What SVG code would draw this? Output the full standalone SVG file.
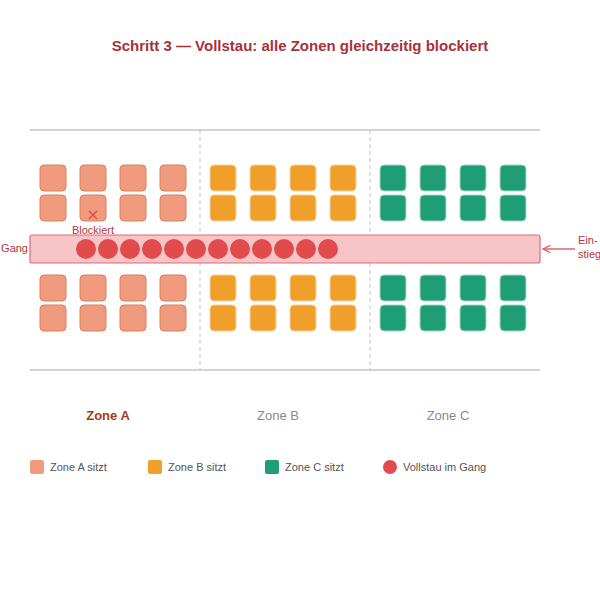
<svg xmlns="http://www.w3.org/2000/svg" width="600" height="600" viewBox="0 0 600 600">
<defs>
<style>
text{font-family:"Liberation Sans",Arial,sans-serif}
.sa{fill:#f09b7d;stroke:#d9805f;stroke-width:1}
.sb{fill:#ef9f2a;stroke:#f5d3a0;stroke-width:1}
.sc{fill:#1f9e76;stroke:#a8d8c6;stroke-width:1}
.p{fill:#e14b4e}
.zl{font-size:13px;text-anchor:middle;fill:#8a8a8a}
.lg{font-size:11px;fill:#555}
.rl{fill:#b8343a;font-size:11px}
</style>
<marker id="ah" viewBox="0 0 10 10" refX="9" refY="5" markerWidth="9" markerHeight="9" orient="auto" markerUnits="userSpaceOnUse">
<path d="M1 1L9 5L1 9" fill="none" stroke="#e0626a" stroke-width="1.5"/>
</marker>
</defs>
<rect width="600" height="600" fill="#fff"/>
<text x="300" y="51" text-anchor="middle" font-size="15" font-weight="bold" fill="#a8313a">Schritt 3 — Vollstau: alle Zonen gleichzeitig blockiert</text>
<g id="cabin">
<line x1="30" y1="130" x2="540" y2="130" stroke="#c8c5c0" stroke-width="1.5"/>
<line x1="30" y1="370" x2="540" y2="370" stroke="#c8c5c0" stroke-width="1.5"/>
<line x1="200" y1="130" x2="200" y2="370" stroke="#cfcfcf" stroke-width="1.2" stroke-dasharray="4 3"/>
<line x1="370" y1="130" x2="370" y2="370" stroke="#cfcfcf" stroke-width="1.2" stroke-dasharray="4 3"/>
</g>
<g id="zoneA-seats">
<rect class="sa" x="40" y="165" width="26" height="26" rx="4"/><rect class="sa" x="80" y="165" width="26" height="26" rx="4"/><rect class="sa" x="120" y="165" width="26" height="26" rx="4"/><rect class="sa" x="160" y="165" width="26" height="26" rx="4"/>
<rect class="sa" x="40" y="195" width="26" height="26" rx="4"/><rect class="sa" x="80" y="195" width="26" height="26" rx="4"/><rect class="sa" x="120" y="195" width="26" height="26" rx="4"/><rect class="sa" x="160" y="195" width="26" height="26" rx="4"/>
<rect class="sa" x="40" y="275" width="26" height="26" rx="4"/><rect class="sa" x="80" y="275" width="26" height="26" rx="4"/><rect class="sa" x="120" y="275" width="26" height="26" rx="4"/><rect class="sa" x="160" y="275" width="26" height="26" rx="4"/>
<rect class="sa" x="40" y="305" width="26" height="26" rx="4"/><rect class="sa" x="80" y="305" width="26" height="26" rx="4"/><rect class="sa" x="120" y="305" width="26" height="26" rx="4"/><rect class="sa" x="160" y="305" width="26" height="26" rx="4"/>
</g>
<g id="zoneB-seats">
<rect class="sb" x="210" y="165" width="26" height="26" rx="4"/><rect class="sb" x="250" y="165" width="26" height="26" rx="4"/><rect class="sb" x="290" y="165" width="26" height="26" rx="4"/><rect class="sb" x="330" y="165" width="26" height="26" rx="4"/>
<rect class="sb" x="210" y="195" width="26" height="26" rx="4"/><rect class="sb" x="250" y="195" width="26" height="26" rx="4"/><rect class="sb" x="290" y="195" width="26" height="26" rx="4"/><rect class="sb" x="330" y="195" width="26" height="26" rx="4"/>
<rect class="sb" x="210" y="275" width="26" height="26" rx="4"/><rect class="sb" x="250" y="275" width="26" height="26" rx="4"/><rect class="sb" x="290" y="275" width="26" height="26" rx="4"/><rect class="sb" x="330" y="275" width="26" height="26" rx="4"/>
<rect class="sb" x="210" y="305" width="26" height="26" rx="4"/><rect class="sb" x="250" y="305" width="26" height="26" rx="4"/><rect class="sb" x="290" y="305" width="26" height="26" rx="4"/><rect class="sb" x="330" y="305" width="26" height="26" rx="4"/>
</g>
<g id="zoneC-seats">
<rect class="sc" x="380" y="165" width="26" height="26" rx="4"/><rect class="sc" x="420" y="165" width="26" height="26" rx="4"/><rect class="sc" x="460" y="165" width="26" height="26" rx="4"/><rect class="sc" x="500" y="165" width="26" height="26" rx="4"/>
<rect class="sc" x="380" y="195" width="26" height="26" rx="4"/><rect class="sc" x="420" y="195" width="26" height="26" rx="4"/><rect class="sc" x="460" y="195" width="26" height="26" rx="4"/><rect class="sc" x="500" y="195" width="26" height="26" rx="4"/>
<rect class="sc" x="380" y="275" width="26" height="26" rx="4"/><rect class="sc" x="420" y="275" width="26" height="26" rx="4"/><rect class="sc" x="460" y="275" width="26" height="26" rx="4"/><rect class="sc" x="500" y="275" width="26" height="26" rx="4"/>
<rect class="sc" x="380" y="305" width="26" height="26" rx="4"/><rect class="sc" x="420" y="305" width="26" height="26" rx="4"/><rect class="sc" x="460" y="305" width="26" height="26" rx="4"/><rect class="sc" x="500" y="305" width="26" height="26" rx="4"/>
</g>
<g id="aisle">
<rect x="30" y="235" width="510" height="28" rx="2" fill="#f7c5c7" stroke="#e36a70" stroke-width="1.2"/>
<text class="rl" x="28" y="252" text-anchor="end">Gang</text>
</g>
<g id="passengers">
<circle class="p" cx="86" cy="249" r="10"/><circle class="p" cx="108" cy="249" r="10"/><circle class="p" cx="130" cy="249" r="10"/><circle class="p" cx="152" cy="249" r="10"/><circle class="p" cx="174" cy="249" r="10"/><circle class="p" cx="196" cy="249" r="10"/><circle class="p" cx="218" cy="249" r="10"/><circle class="p" cx="240" cy="249" r="10"/><circle class="p" cx="262" cy="249" r="10"/><circle class="p" cx="284" cy="249" r="10"/><circle class="p" cx="306" cy="249" r="10"/><circle class="p" cx="328" cy="249" r="10"/>
</g>
<g id="blocked">
<path d="M89 211L97 219M97 211L89 219" stroke="#e14b4e" stroke-width="1.5"/>
<text class="rl" x="93" y="234" text-anchor="middle">Blockiert</text>
</g>
<g id="connectors">
<line x1="575" y1="249" x2="543" y2="249" stroke="#e0626a" stroke-width="1.5" marker-end="url(#ah)"/>
</g>
<g id="entry">
<text class="rl" x="578" y="244">Ein-</text>
<text class="rl" x="578" y="258">stieg</text>
</g>
<g id="zone-labels">
<text class="zl" x="108" y="420" font-weight="bold" style="fill:#a33c22">Zone A</text>
<text class="zl" x="278" y="420">Zone B</text>
<text class="zl" x="448" y="420">Zone C</text>
</g>
<g id="legend">
<rect x="30" y="460" width="14" height="14" rx="2" fill="#f09b7d"/>
<text class="lg" x="50" y="471">Zone A sitzt</text>
<rect x="148" y="460" width="14" height="14" rx="2" fill="#ef9f2a"/>
<text class="lg" x="168" y="471">Zone B sitzt</text>
<rect x="265" y="460" width="14" height="14" rx="2" fill="#1f9e76"/>
<text class="lg" x="285" y="471">Zone C sitzt</text>
<circle cx="390" cy="467" r="7" fill="#e14b4e"/>
<text class="lg" x="403" y="471">Vollstau im Gang</text>
</g>
</svg>
